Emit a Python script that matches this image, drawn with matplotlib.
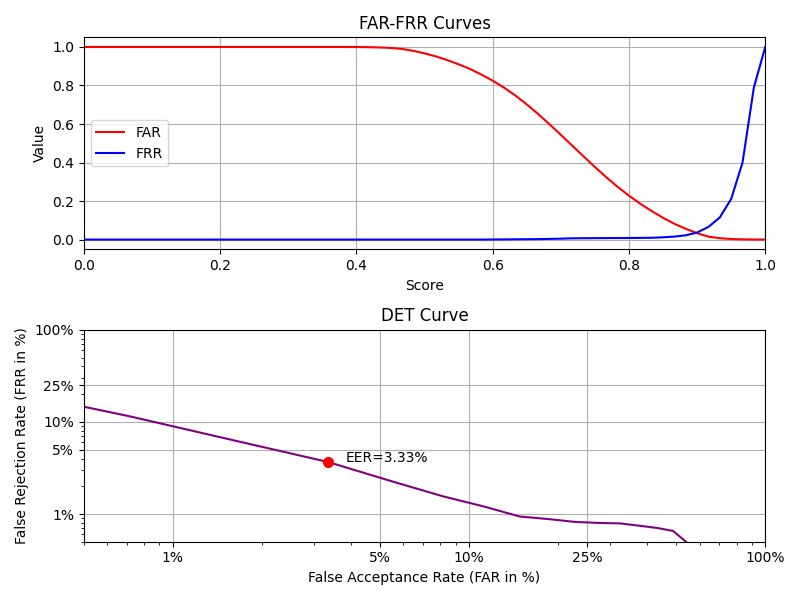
import numpy as np
import matplotlib
matplotlib.use("Agg")
import matplotlib.pyplot as plt
from matplotlib.ticker import NullFormatter

# Thresholds (61 scores from 0 to 1)
scores = np.linspace(0, 1, 61)

# False acceptance rate at each score
far = [1.0] * 24 + [
    0.9998, 0.999, 0.9975, 0.995, 0.990, 0.980, 0.967, 0.951, 0.932, 0.910,
    0.886, 0.857, 0.825, 0.789, 0.748, 0.702, 0.652, 0.599, 0.544, 0.488,
    0.432, 0.377, 0.324, 0.274, 0.228, 0.186, 0.148, 0.113, 0.082, 0.056,
    0.0334, 0.0151, 0.00715, 0.0029, 0.0012, 0.0004, 0.0,
]

# False rejection rate at each score
frr = [0.0] * 36 + [
    0.0005, 0.001, 0.0015, 0.002, 0.0025, 0.0035, 0.0049, 0.00655, 0.00705,
    0.00745, 0.0079, 0.0080, 0.0082, 0.0088, 0.0094, 0.0120, 0.0155, 0.0222,
    0.0367, 0.066, 0.115, 0.211, 0.40, 0.79, 1.0,
]

eer_index = 54
eer_label = "EER=3.33%"

det_ticks = [0.01, 0.05, 0.10, 0.25, 1.0]
det_labels = ["1%", "5%", "10%", "25%", "100%"]

fig, (ax1, ax2) = plt.subplots(2, 1, figsize=(8, 6), dpi=100)

ax1.plot(scores, far, color="red", label="FAR")
ax1.plot(scores, frr, color="blue", label="FRR")
ax1.set_xlim(0, 1)
ax1.set_xlabel("Score")
ax1.set_ylabel("Value")
ax1.set_title("FAR-FRR Curves")
ax1.legend(loc="center left")
ax1.grid(True)

ax2.plot(far, frr, color="purple")
ax2.set_xscale("log")
ax2.set_yscale("log")
ax2.set_xlim(0.005, 1.0)
ax2.set_ylim(0.005, 1.0)
ax2.set_xticks(det_ticks)
ax2.set_xticklabels(det_labels)
ax2.set_yticks(det_ticks)
ax2.set_yticklabels(det_labels)
ax2.xaxis.set_minor_formatter(NullFormatter())
ax2.yaxis.set_minor_formatter(NullFormatter())
ax2.plot(far[eer_index], frr[eer_index], "o", color="red", markersize=7)
ax2.text(far[eer_index] + 0.005, frr[eer_index], eer_label)
ax2.set_xlabel("False Acceptance Rate (FAR in %)")
ax2.set_ylabel("False Rejection Rate (FRR in %)")
ax2.set_title("DET Curve")
ax2.grid(True)

fig.tight_layout()
fig.savefig("out.png")
